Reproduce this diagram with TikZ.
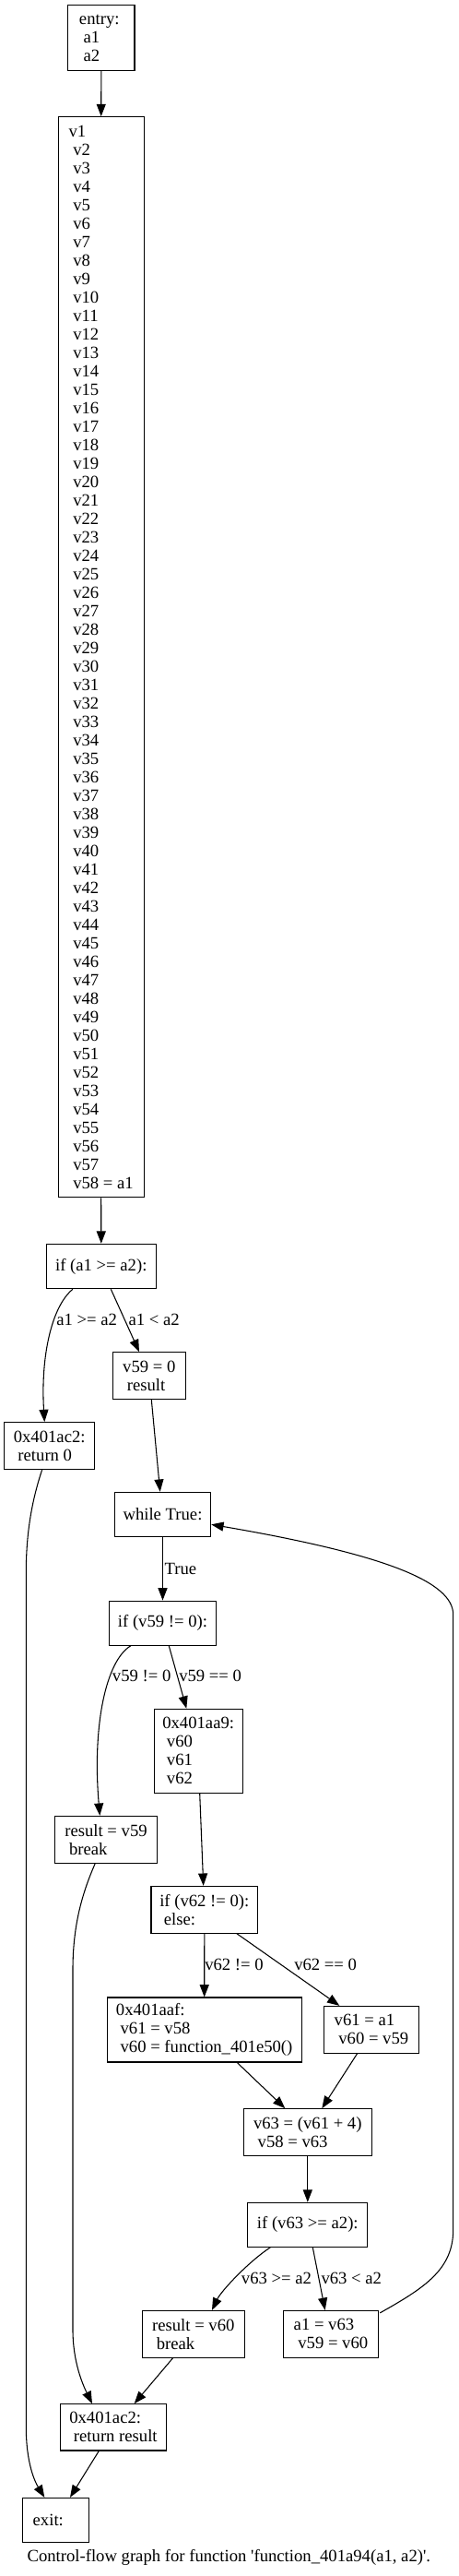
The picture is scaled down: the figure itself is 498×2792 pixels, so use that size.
\documentclass[tikz,border=0pt]{standalone}
\usepackage{fontspec}
\setmainfont{Liberation Serif}
\usetikzlibrary{arrows.meta,calc}
\newcommand\myind{\hspace*{0.25em}}
\begin{document}
\begin{tikzpicture}[x=0.75pt,y=-0.75pt,
  font=\fontsize{14}{15}\selectfont,
  box/.style={draw, line width=0.8pt, align=left, inner xsep=2pt, inner ysep=0pt},
  lbl/.style={anchor=west, inner sep=0pt},
  arr/.style={draw, line width=0.8pt, -{Triangle[length=10pt,width=7.5pt]}}]
\useasboundingbox (0,0) rectangle (498,2792);

\node[box, minimum width=54.2pt, minimum height=53pt, inner xsep=9.2pt, text width=35.8pt] (entry) at (109.85,41) {entry:\\ \myind a1\\ \myind a2};

\node[box, minimum width=69.5pt, minimum height=878.3pt] (body) at (109.7,712.2) {v1\\ \myind v2\\ \myind v3\\ \myind v4\\ \myind v5\\ \myind v6\\ \myind v7\\ \myind v8\\ \myind v9\\ \myind v10\\ \myind v11\\ \myind v12\\ \myind v13\\ \myind v14\\ \myind v15\\ \myind v16\\ \myind v17\\ \myind v18\\ \myind v19\\ \myind v20\\ \myind v21\\ \myind v22\\ \myind v23\\ \myind v24\\ \myind v25\\ \myind v26\\ \myind v27\\ \myind v28\\ \myind v29\\ \myind v30\\ \myind v31\\ \myind v32\\ \myind v33\\ \myind v34\\ \myind v35\\ \myind v36\\ \myind v37\\ \myind v38\\ \myind v39\\ \myind v40\\ \myind v41\\ \myind v42\\ \myind v43\\ \myind v44\\ \myind v45\\ \myind v46\\ \myind v47\\ \myind v48\\ \myind v49\\ \myind v50\\ \myind v51\\ \myind v52\\ \myind v53\\ \myind v54\\ \myind v55\\ \myind v56\\ \myind v57\\ \myind v58 = a1};

\node[box, minimum width=89.3pt, minimum height=36.3pt] (ifa) at (109.8,1372.5) {if (a1 >= a2):};
\node[box, minimum width=73.5pt, minimum height=38pt] (ret0) at (53.7,1567) {0x401ac2:\\ \myind return 0};
\node[box, minimum width=59.3pt, minimum height=38pt] (v59) at (161.8,1491) {v59 = 0\\ \myind result};
\node[box, minimum width=78.3pt, minimum height=36.3pt] (wh) at (176.5,1641.5) {while True:};
\node[box, minimum width=87.3pt, minimum height=36.2pt] (ifb) at (176.5,1759.2) {if (v59 != 0):};
\node[box, minimum width=72.2pt, minimum height=68.3pt] (aa9) at (215.2,1897.8) {0x401aa9:\\ \myind v60\\ \myind v61\\ \myind v62};
\node[box, minimum width=83.6pt, minimum height=38pt] (rv59) at (115,1993.7) {result = v59\\ \myind break};
\node[box, minimum width=86.7pt, minimum height=38pt] (ifc) at (221.8,2069.7) {if (v62 != 0):\\ \myind else:};
\node[box, minimum width=158pt, minimum height=52.5pt] (aaf) at (221.7,2200) {0x401aaf:\\ \myind v61 = v58\\ \myind v60 = function\_401e50()};
\node[box, minimum width=77pt, minimum height=38pt] (v61a1) at (403,2199.7) {v61 = a1\\ \myind v60 = v59};
\node[box, minimum width=104.3pt, minimum height=38pt] (v63) at (333.8,2311) {v63 = (v61 + 4)\\ \myind v58 = v63};
\node[box, minimum width=97.3pt, minimum height=36pt] (ifd) at (333.8,2411.3) {if (v63 >= a2):};
\node[box, minimum width=83.3pt, minimum height=38pt] (rv60) at (209.8,2529.7) {result = v60\\ \myind break};
\node[box, minimum width=77.6pt, minimum height=38pt] (a1v63) at (359,2529.7) {a1 = v63\\ \myind v59 = v60};
\node[box, minimum width=86pt, minimum height=37.7pt] (retr) at (123,2630.8) {0x401ac2:\\ \myind return result};
\node[box, minimum width=54pt, minimum height=35.8pt, inner xsep=8.55pt, text width=36.9pt] (exit) at (60.3,2731.2) {exit:};

\node[anchor=base, inner sep=0pt] (cap) at (248.3,2776.7) {Control-flow graph for function \textquotesingle function\_401a94(a1, a2)\textquotesingle.};

% edge labels
\node[lbl] (l1) at (61,1430) {a1 >= a2};
\node[lbl] (l2) at (139.3,1430) {a1 < a2};
\node[lbl] (l3) at (178.3,1700) {True};
\node[lbl] (l4) at (121.7,1816.7) {v59 != 0};
\node[lbl] (l5) at (194,1816.7) {v59 == 0};
\node[lbl] (l6) at (222,2129.3) {v62 != 0};
\node[lbl] (l7) at (319,2129.3) {v62 == 0};
\node[lbl] (l8) at (261.7,2469.3) {v63 >= a2};
\node[lbl] (l9) at (348.3,2469.3) {v63 < a2};

% edges
\draw[arr] (entry.south) -- (body.north);
\draw[arr] (body.south) -- (ifa.north);
\draw[arr] ($(ifa.south)+(-30.8,0)$) .. controls (56,1416) and (44,1470) .. ($(ret0.north)+(-5.4,0)$);
\draw[arr] ($(ifa.south)+(10.5,0)$) -- ($(v59.north)+(-10.8,0)$);
\draw[arr] ($(v59.south)+(2.5,0)$) -- ($(wh.north)+(-2.8,0)$);
\draw[arr] (wh.south) -- (ifb.north);
\draw[arr] ($(ifb.south)+(-34.8,0)$) .. controls (115,1800) and (100,1870) .. ($(rv59.north)+(-6.7,0)$);
\draw[arr] ($(ifb.south)+(6.8,0)$) -- ($(aa9.north)+(-12.9,0)$);
\draw[arr] ($(aa9.south)+(1.5,0)$) -- ($(ifc.north)+(-1.1,0)$);
\draw[arr] ($(rv59.south)+(-11.7,0)$) .. controls (90,2050) and (79,2085) .. (79,2135) -- (79,2525) .. controls (79,2560) and (90,2585) .. ($(retr.north)+(-23,0)$);
\draw[arr] (ifc.south) -- (aaf.north);
\draw[arr] ($(ifc.south)+(34.9,0)$) -- ($(v61a1.north)+(-34.7,0)$);
\draw[arr] ($(aaf.south)+(35.6,0)$) -- ($(v63.north)+(-24.5,0)$);
\draw[arr] ($(v61a1.south)+(-15.3,0)$) -- ($(v63.north)+(15.5,0)$);
\draw[arr] (v63.south) -- (ifd.north);
\draw[arr] ($(ifd.south)+(-40.5,0)$) .. controls (270,2451) and (240,2483) .. ($(rv60.north)+(20.2,0)$);
\draw[arr] ($(ifd.south)+(5.5,0)$) -- ($(a1v63.north)+(-6.3,0)$);
\draw[arr] ($(a1v63.north east)+(1,3)$) .. controls (460,2480) and (491.7,2460) .. (491.7,2416.7) -- (491.7,1750) .. controls (491.7,1715) and (420,1685) .. ($(wh.east)+(0,10.8)$);
\draw[arr] ($(rv60.south)+(-22.1,0)$) -- ($(retr.north)+(22.7,0)$);
\draw[arr] ($(retr.south)+(-15.7,0)$) -- ($(exit.north)+(15.7,0)$);
\draw[arr] ($(ret0.south)+(-8,0)$) .. controls (35,1625) and (28.3,1660) .. (28.3,1705) -- (28.3,2630) .. controls (28.3,2670) and (38,2690) .. ($(exit.north)+(-12,0)$);
\end{tikzpicture}
\end{document}
